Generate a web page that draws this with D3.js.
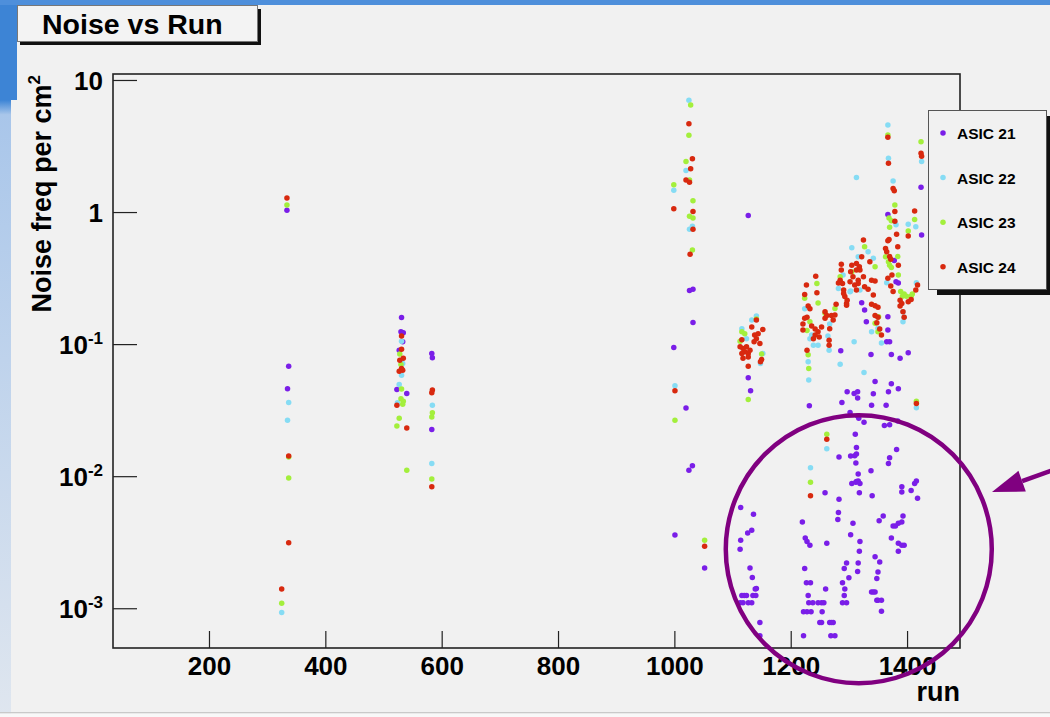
<!DOCTYPE html>
<html lang="en">
	<head>
		<meta charset="UTF-8" />
		<title>Noise vs Run</title>
		<script src="https://d3js.org/d3.v7.min.js"></script>
		<style>
			html,
			body {
				margin: 0;
				padding: 0;
				background: #f1f1f1;
			}
			svg {
				display: block;
				font-family: 'Liberation Sans', Arial, Helvetica, sans-serif;
				font-weight: bold;
			}
			.tick text {
				font-size: 26px;
				fill: #000;
			}
		</style>
	</head>
	<body>
		<svg id="chart" width="1050" height="717"></svg>
		<script>
			// [run, noise freq per cm2]
			const asic21 = [
				[334, 1.03], [337, 0.068], [335, 0.046],
				[531, 0.159], [530, 0.124], [534, 0.122], [533, 0.104], [527, 0.09], [523, 0.0454], [540, 0.0423],
				[583, 0.085], [584, 0.079], [583, 0.0226],
				[1026, 0.255], [1032, 0.26], [1032, 0.146], [999, 0.0944], [1020, 0.0329], [1031, 0.012], [1025, 0.0111], [1001, 0.00359], [1052, 0.00202],
				[1127, 0.94], [1127, 0.0556], [1131, 0.0443],
				[1114, 0.0058], [1136, 0.00515], [1133, 0.0039], [1126, 0.00372], [1114, 0.00327], [1113, 0.0028], [1130, 0.00202], [1134, 0.00171],
				[1116, 0.00125], [1120, 0.00125], [1124, 0.00125], [1135, 0.00125], [1140, 0.00125], [1139, 0.0014], [1141, 0.00141],
				[1113, 0.0011], [1118, 0.0011], [1127, 0.0011], [1133, 0.0011], [1147, 0.00078], [1147, 0.00062],
				[1232, 0.0341], [1286, 0.089],
				[1297, 0.0435], [1309, 0.0423], [1315, 0.039], [1288, 0.0361], [1302, 0.0304], [1315, 0.0285], [1311, 0.0208],
				[1283, 0.014], [1303, 0.0142], [1310, 0.0143], [1312, 0.0126], [1305, 0.0088], [1312, 0.009], [1316, 0.0092],
				[1259, 0.0075], [1283, 0.0067], [1318, 0.0075], [1282, 0.0053], [1281, 0.0047], [1220, 0.0045], [1307, 0.0044],
				[1303, 0.0036], [1225, 0.0034], [1228, 0.0032], [1233, 0.003], [1262, 0.0031], [1318, 0.0027], [1296, 0.0022],
				[1292, 0.002], [1300, 0.0017], [1224, 0.002], [1289, 0.00156], [1315, 0.0019], [1227, 0.00156], [1234, 0.00156],
				[1260, 0.0014], [1293, 0.0014], [1230, 0.00125], [1292, 0.00125],
				[1231, 0.0011], [1238, 0.0011], [1247, 0.0011], [1253, 0.0011], [1257, 0.0011], [1289, 0.0011], [1296, 0.0011],
				[1222, 0.00094], [1228, 0.00094], [1235, 0.00094], [1254, 0.00094],
				[1250, 0.00078], [1253, 0.00078], [1267, 0.00078], [1270, 0.00078], [1273, 0.00078],
				[1222, 0.00062], [1269, 0.00062], [1276, 0.00062],
				[1367, 0.96], [1424, 1.54], [1425, 0.67], [1378, 0.43], [1381, 0.297], [1385, 0.29],
				[1322, 0.206], [1327, 0.181], [1330, 0.148], [1338, 0.0836], [1367, 0.161], [1367, 0.128], [1365, 0.104],
				[1370, 0.104], [1373, 0.0836], [1388, 0.078], [1402, 0.086],
				[1345, 0.052], [1373, 0.05], [1385, 0.046], [1315, 0.0435], [1342, 0.042], [1368, 0.0435], [1339, 0.0345],
				[1364, 0.0345], [1317, 0.0275], [1326, 0.0256], [1361, 0.0242], [1370, 0.0245], [1384, 0.0262],
				[1313, 0.0165], [1313, 0.0147], [1382, 0.0159], [1370, 0.0138], [1368, 0.0125], [1316, 0.0104], [1313, 0.0091],
				[1319, 0.0088], [1338, 0.011], [1416, 0.0092], [1413, 0.0088], [1407, 0.0078], [1391, 0.0083], [1391, 0.0076],
				[1418, 0.0068], [1340, 0.0071], [1359, 0.005], [1352, 0.0046], [1393, 0.005], [1385, 0.0044], [1391, 0.0045],
				[1376, 0.0042], [1380, 0.0042], [1373, 0.0034], [1385, 0.0031], [1391, 0.003], [1395, 0.003], [1385, 0.0027],
				[1319, 0.0032], [1316, 0.0022], [1345, 0.00245], [1353, 0.00224], [1350, 0.00188], [1348, 0.00168],
				[1339, 0.00133], [1342, 0.00133], [1345, 0.00133], [1348, 0.00115], [1350, 0.00115], [1356, 0.00115], [1356, 0.00095],
			];
			const asic22 = [
				[337, 0.0361], [335, 0.0265], [325, 0.00093],
				[531, 0.105], [533, 0.0714], [531, 0.058], [527, 0.0495], [524, 0.0359],
				[584, 0.0345], [583, 0.0125],
				[1025, 7.01], [1020, 2.06], [999, 1.46], [1031, 0.78], [1026, 0.74], [1001, 0.0483],
				[1116, 0.131], [1133, 0.152], [1141, 0.163], [1152, 0.085], [1148, 0.0714], [1124, 0.11],
				[1224, 0.185], [1236, 0.117], [1233, 0.11], [1239, 0.098], [1247, 0.098], [1267, 0.142], [1264, 0.115],
				[1266, 0.09], [1230, 0.0735], [1231, 0.0534], [1282, 0.264], [1305, 0.537], [1316, 0.458], [1302, 0.249],
				[1285, 0.0705], [1309, 0.104], [1262, 0.0161], [1234, 0.0116], [1290, 0.333], [1303, 0.253],
				[1367, 4.56], [1368, 2.55], [1425, 2.41], [1313, 1.83], [1376, 1.72], [1381, 0.8], [1402, 0.81], [1415, 0.774],
				[1333, 0.5], [1342, 0.446], [1319, 0.257], [1365, 0.292], [1416, 0.291], [1393, 0.176], [1395, 0.16],
				[1393, 0.148], [1339, 0.124], [1350, 0.132], [1356, 0.102], [1326, 0.061], [1416, 0.033],
			];
			const asic23 = [
				[334, 1.13], [337, 0.014], [337, 0.0097], [325, 0.00109],
				[528, 0.084], [530, 0.07], [531, 0.0458], [530, 0.0385], [534, 0.037], [533, 0.0351], [527, 0.0275], [523, 0.024], [540, 0.0111],
				[584, 0.0302], [583, 0.0281], [583, 0.0095],
				[1028, 6.47], [1025, 3.81], [1020, 2.41], [1026, 1.75], [999, 1.61], [1032, 1.22], [1026, 0.93], [1032, 0.9],
				[1031, 0.515], [1001, 0.0265], [1052, 0.00327],
				[1116, 0.124], [1113, 0.105], [1121, 0.12], [1141, 0.155], [1150, 0.084], [1127, 0.0381],
				[1245, 0.288], [1224, 0.222], [1233, 0.148], [1228, 0.127], [1247, 0.205], [1259, 0.171], [1276, 0.186],
				[1230, 0.083], [1231, 0.0655], [1262, 0.0208], [1234, 0.009], [1285, 0.324], [1305, 0.353],
				[1367, 3.83], [1424, 3.41], [1379, 1.13], [1413, 0.88], [1369, 0.9], [1373, 0.86], [1370, 0.766], [1402, 0.72],
				[1327, 0.546], [1363, 0.459], [1384, 0.46], [1368, 0.42], [1370, 0.396], [1373, 0.38], [1345, 0.385],
				[1385, 0.333], [1389, 0.25], [1392, 0.23], [1395, 0.24], [1399, 0.23], [1407, 0.23], [1409, 0.24],
				[1351, 0.161], [1345, 0.144], [1350, 0.124], [1416, 0.037],
			];
			const asic24 = [
				[334, 1.28], [337, 0.0142], [337, 0.00313], [325, 0.0014],
				[531, 0.115], [531, 0.0916], [528, 0.0756], [534, 0.078], [531, 0.0655], [527, 0.0624], [533, 0.0635], [523, 0.0345], [540, 0.0232],
				[584, 0.0449], [583, 0.0428], [583, 0.0083],
				[1025, 4.67], [1031, 2.53], [1028, 2.13], [1020, 1.75], [1026, 1.68], [999, 1.06], [1032, 1.01], [1032, 0.74],
				[1027, 0.48], [1001, 0.0443], [1052, 0.00295],
				[1116, 0.108], [1113, 0.0955], [1118, 0.0927], [1124, 0.0955], [1121, 0.0875], [1116, 0.085], [1127, 0.085],
				[1130, 0.09], [1118, 0.078], [1127, 0.08], [1127, 0.068], [1133, 0.135], [1141, 0.152], [1152, 0.129],
				[1138, 0.117], [1144, 0.12], [1141, 0.11], [1137, 0.104], [1147, 0.101], [1150, 0.0766], [1148, 0.0735],
				[1243, 0.327], [1227, 0.28], [1245, 0.245], [1224, 0.238], [1230, 0.194], [1233, 0.185], [1224, 0.157],
				[1221, 0.142], [1228, 0.16], [1236, 0.137], [1242, 0.13], [1221, 0.128], [1259, 0.176], [1259, 0.157],
				[1262, 0.165], [1253, 0.135], [1247, 0.124], [1242, 0.117], [1239, 0.11], [1249, 0.113], [1267, 0.131],
				[1270, 0.165], [1276, 0.166], [1273, 0.152], [1266, 0.107], [1266, 0.098], [1228, 0.09], [1278, 0.2],
				[1287, 0.402], [1285, 0.305], [1282, 0.29], [1291, 0.257], [1293, 0.229], [1296, 0.203], [1297, 0.215],
				[1305, 0.396], [1302, 0.297], [1313, 0.364], [1262, 0.019], [1234, 0.0071],
				[1287, 0.364], [1289, 0.288], [1291, 0.242], [1296, 0.197], [1303, 0.353], [1307, 0.324], [1310, 0.28],
				[1316, 0.305], [1313, 0.257], [1318, 0.385],
				[1367, 3.68], [1368, 2.34], [1424, 2.79], [1425, 2.65], [1376, 1.51], [1378, 1.45], [1379, 1.01], [1413, 1.02],
				[1379, 0.85], [1382, 0.678], [1402, 0.658], [1384, 0.546], [1367, 0.607], [1369, 0.62], [1363, 0.53],
				[1365, 0.5], [1370, 0.46], [1372, 0.44], [1385, 0.396], [1374, 0.333], [1367, 0.315], [1372, 0.275],
				[1376, 0.25], [1388, 0.215], [1391, 0.203], [1388, 0.194], [1393, 0.176], [1407, 0.218], [1415, 0.257],
				[1418, 0.28], [1402, 0.209], [1395, 0.16],
				[1325, 0.614], [1322, 0.458], [1313, 0.408], [1319, 0.364], [1325, 0.324], [1316, 0.288], [1336, 0.42],
				[1339, 0.305], [1345, 0.3], [1327, 0.272], [1333, 0.26], [1342, 0.235], [1339, 0.2], [1345, 0.195],
				[1350, 0.19], [1345, 0.165], [1350, 0.16], [1348, 0.145], [1353, 0.13], [1356, 0.117], [1416, 0.0355],
			];

			const seriesNames = ['ASIC 21', 'ASIC 22', 'ASIC 23', 'ASIC 24'];
			const seriesData = [asic21, asic22, asic23, asic24];
			const seriesColors = ['#7a1ee8', '#86dcf4', '#a3ef3c', '#d8290f'];

			const xTicks = [200, 400, 600, 800, 1000, 1200, 1400];
			const yTicks = [1e-3, 1e-2, 1e-1, 1, 10];
			const yTickBase = ['10', '10', '10', '1', '10'];
			const yTickExp = ['-3', '-2', '-1', '', ''];

			const svg = d3.select('#chart');
			const width = 1050;
			const height = 717;
			const frame = { left: 113, right: 960, top: 74, bottom: 648 };
			const dotR = 2.75;

			const x = d3.scaleLinear().domain([35, 1491]).range([frame.left, frame.right]);
			const y = d3.scaleLog().domain([5e-4, 11.1]).range([frame.bottom, frame.top]);

			// slide background
			const defs = svg.append('defs');
			const sideGrad = defs
				.append('linearGradient')
				.attr('id', 'side')
				.attr('x1', 0)
				.attr('x2', 0)
				.attr('y1', 0)
				.attr('y2', 1);
			sideGrad.append('stop').attr('offset', '0%').attr('stop-color', '#3b82d4');
			sideGrad.append('stop').attr('offset', '14%').attr('stop-color', '#3f86d6');
			sideGrad.append('stop').attr('offset', '16%').attr('stop-color', '#a9c6ea');
			sideGrad.append('stop').attr('offset', '100%').attr('stop-color', '#dfe6ef');

			svg.append('rect').attr('width', width).attr('height', height).attr('fill', '#f1f1f1');
			svg.append('rect').attr('width', 11).attr('height', height).attr('fill', 'url(#side)');
			svg.append('rect').attr('width', 17).attr('height', 100).attr('fill', '#3d84d5');
			svg.append('rect').attr('width', width).attr('height', 5).attr('fill', '#4e8fdb');
			svg.append('rect').attr('y', 712).attr('width', width).attr('height', 1.5).attr('fill', '#c9c9c9');
			svg.append('rect').attr('y', 713.5).attr('width', width).attr('height', 4).attr('fill', '#f8f8f8');

			// title box
			svg.append('rect').attr('x', 20).attr('y', 9).attr('width', 241).attr('height', 36).attr('fill', '#111');
			svg
				.append('rect')
				.attr('x', 17.5)
				.attr('y', 5.5)
				.attr('width', 240)
				.attr('height', 36)
				.attr('fill', '#f3f3f3')
				.attr('stroke', '#777')
				.attr('stroke-width', 1);
			svg
				.append('text')
				.attr('x', 42)
				.attr('y', 34)
				.attr('font-size', 28.5)
				.text('Noise vs Run');

			// x axis
			const xAxis = svg.append('g').attr('transform', `translate(0,${frame.bottom})`);
			xAxis.call(
				d3
					.axisBottom(x)
					.tickValues(d3.range(50, 1491, 50))
					.tickSize(-10)
					.tickFormat(''),
			);
			xAxis.call(
				d3
					.axisBottom(x)
					.tickValues(xTicks)
					.tickSize(-17)
					.tickPadding(9)
					.tickFormat(d3.format('d')),
			);
			xAxis.selectAll('.domain').remove();
			xAxis.selectAll('line').attr('stroke', '#222').attr('stroke-width', 1.2);

			// y axis
			const minorY = [];
			for (let e = -4; e <= 1; e++) {
				for (let m = 2; m <= 9; m++) {
					const v = m * Math.pow(10, e);
					if (v >= 5e-4 && v <= 11.1) minorY.push(v);
				}
			}
			const yAxis = svg.append('g').attr('transform', `translate(${frame.left},0)`);
			yAxis.call(d3.axisLeft(y).tickValues(minorY).tickSize(-12).tickFormat(''));
			yAxis.call(
				d3
					.axisLeft(y)
					.tickValues(yTicks)
					.tickSize(-24)
					.tickPadding(10)
					.tickFormat(''),
			);
			yAxis.selectAll('.domain').remove();
			yAxis.selectAll('line').attr('stroke', '#222').attr('stroke-width', 1.2);
			yAxis
				.selectAll('.tick text')
				.filter((d) => yTicks.includes(d))
				.attr('dy', '0.36em')
				.each(function (d) {
					const i = yTicks.indexOf(d);
					const t = d3.select(this);
					t.append('tspan').text(yTickBase[i]);
					if (yTickExp[i]) {
						t.append('tspan').attr('font-size', 17).attr('dy', -10).text(yTickExp[i]);
					}
				});

			// frame
			svg
				.append('rect')
				.attr('x', frame.left)
				.attr('y', frame.top)
				.attr('width', frame.right - frame.left)
				.attr('height', frame.bottom - frame.top)
				.attr('fill', 'none')
				.attr('stroke', '#222')
				.attr('stroke-width', 1.6);

			// axis titles
			const yTitle = svg
				.append('text')
				.attr('transform', `translate(51,${frame.top + 1}) rotate(-90)`)
				.attr('text-anchor', 'end')
				.attr('font-size', 27);
			yTitle.append('tspan').text('Noise freq per cm');
			yTitle.append('tspan').attr('font-size', 17).attr('dy', -11).text('2');

			svg
				.append('text')
				.attr('x', frame.right)
				.attr('y', 701)
				.attr('text-anchor', 'end')
				.attr('font-size', 27)
				.text('run');

			// points
			seriesData.forEach((data, i) => {
				svg
					.append('g')
					.selectAll('circle')
					.data(data)
					.enter()
					.append('circle')
					.attr('cx', (d) => x(d[0]))
					.attr('cy', (d) => y(d[1]))
					.attr('r', dotR)
					.attr('fill', seriesColors[i]);
			});

			// legend
			const legend = { x: 928, y: 110, w: 118, h: 179 };
			svg
				.append('rect')
				.attr('x', legend.x + 9)
				.attr('y', legend.y + 6)
				.attr('width', legend.w)
				.attr('height', legend.h)
				.attr('fill', '#111');
			svg
				.append('rect')
				.attr('x', legend.x + 0.5)
				.attr('y', legend.y + 0.5)
				.attr('width', legend.w)
				.attr('height', legend.h)
				.attr('fill', '#f1f1f1')
				.attr('stroke', '#555')
				.attr('stroke-width', 1);
			const rows = svg
				.append('g')
				.selectAll('g')
				.data(seriesNames)
				.enter()
				.append('g')
				.attr('transform', (d, i) => `translate(0,${133 + i * 44.6})`);
			rows
				.append('circle')
				.attr('cx', 943)
				.attr('cy', 0)
				.attr('r', dotR)
				.attr('fill', (d, i) => seriesColors[i]);
			rows
				.append('text')
				.attr('x', 957)
				.attr('y', 6)
				.attr('font-size', 15.5)
				.text((d) => d);

			// annotation: circle round the low ASIC 21 points, and arrow
			const purple = '#800080';
			svg
				.append('ellipse')
				.attr('cx', x(1317))
				.attr('cy', y(0.0028))
				.attr('rx', 133)
				.attr('ry', 134)
				.attr('fill', 'none')
				.attr('stroke', purple)
				.attr('stroke-width', 4.5);

			const tip = [992, 492];
			const tail = [1070, 464];
			const len = Math.hypot(tail[0] - tip[0], tail[1] - tip[1]);
			const ux = (tail[0] - tip[0]) / len;
			const uy = (tail[1] - tip[1]) / len;
			const headLen = 32;
			const headW = 11;
			const base = [tip[0] + ux * headLen, tip[1] + uy * headLen];
			svg
				.append('line')
				.attr('x1', base[0])
				.attr('y1', base[1])
				.attr('x2', tail[0])
				.attr('y2', tail[1])
				.attr('stroke', purple)
				.attr('stroke-width', 4.5);
			svg
				.append('polygon')
				.attr(
					'points',
					[
						tip,
						[base[0] - uy * headW, base[1] + ux * headW],
						[base[0] + uy * headW, base[1] - ux * headW],
					].join(' '),
				)
				.attr('fill', purple);
		</script>
	</body>
</html>
